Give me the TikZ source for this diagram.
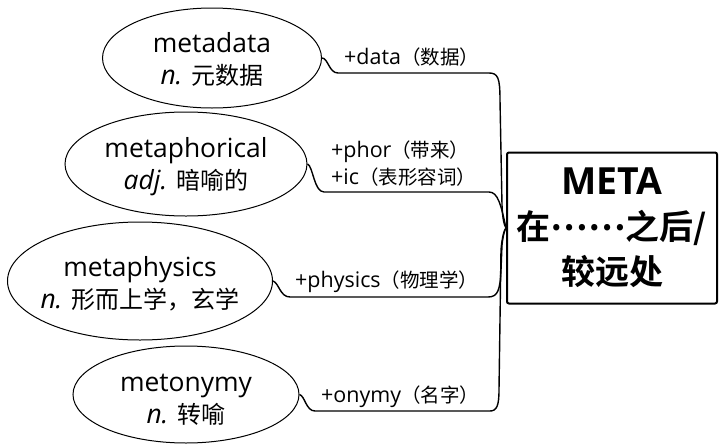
\documentclass[tikz,border=0pt]{standalone}
\usepackage{fontspec}
\setmainfont[Scale=1.1]{Open Sans}
\newfontfamily\cjk[BoldFont={Noto Sans CJK SC Bold}]{Noto Sans CJK SC}
\newcommand\zh[1]{{\cjk #1}}
\usetikzlibrary{shapes.geometric}
\begin{document}
\begin{tikzpicture}[x=1pt,y=-1pt,
  bubble/.style={draw, ellipse, line width=1pt, inner sep=0pt},
  etext/.style={align=center, font=\fontsize{24}{32}\selectfont, inner sep=0pt},
  ltext/.style={anchor=west, font=\fontsize{19.5}{25}\selectfont, inner sep=0pt},
  conn/.style={line width=1.4pt, line join=round},
  root/.style={draw, line width=2pt, rounded corners=2pt, minimum width=210pt, minimum height=151pt, align=center, inner sep=0pt, font=\bfseries\fontsize{34}{45}\selectfont}]
\path[use as bounding box, fill=white] (0,0) rectangle (724,445);

\node[bubble, minimum width=219pt, minimum height=100pt] (e1) at (212,58) {};
\node[etext] (t1) at (212,59) {metadata\\\textit{n.} \zh{元数据}};
\node[bubble, minimum width=242pt, minimum height=104pt] (e2) at (186,164) {};
\node[etext] (t2) at (186,166.5) {metaphorical\\\textit{adj.} \zh{暗喻的}};
\node[bubble, minimum width=265pt, minimum height=118pt] (e3) at (140,281) {};
\node[etext] (t3) at (140,284) {metaphysics\\\textit{n.} \zh{形而上学，玄学}};
\node[bubble, minimum width=226pt, minimum height=97pt] (e4) at (186,394.5) {};
\node[etext] (t4) at (186,399.5) {metonymy\\\textit{n.} \zh{转喻}};

\node[root] (r) at (612,228) {META\\\zh{在\raisebox{0.28em}[0.6em][0pt]{……}之后/}\\\zh{较远处}};

\draw[conn] (e1.east) .. controls (328,58) and (329,73) .. (338,73) -- (489,73) .. controls (498,73) and (500,78) .. (500,100) -- (502,205) .. controls (502.5,218) and (504,225) .. (r.west);
\draw[conn] (e2.east) .. controls (313,166) and (314,192) .. (324,192) -- (489,192) .. controls (498,192) and (501,205) .. (r.west);
\draw[conn] (e3.east) .. controls (279,283) and (280,297) .. (290,297) -- (488,297) .. controls (498,297) and (500,290) .. (501,270) -- (502,245) .. controls (503,235) and (505,229) .. (r.west);
\draw[conn] (e4.east) .. controls (305,396) and (306,411) .. (315,411) -- (490,411) .. controls (497,411) and (499,405) .. (499,390) -- (501,250) .. controls (502,238) and (504,230) .. (r.west);

\node[ltext] (l1) at (344,57) {+data\zh{（数据）}};
\node[ltext] (l2) at (331,152) {+phor\zh{（带来）}};
\node[ltext] (l3) at (331,177) {+ic\zh{（表形容词）}};
\node[ltext] (l4) at (295,282) {+physics\zh{（物理学）}};
\node[ltext] (l5) at (321,397) {+onymy\zh{（名字）}};
\end{tikzpicture}
\end{document}
